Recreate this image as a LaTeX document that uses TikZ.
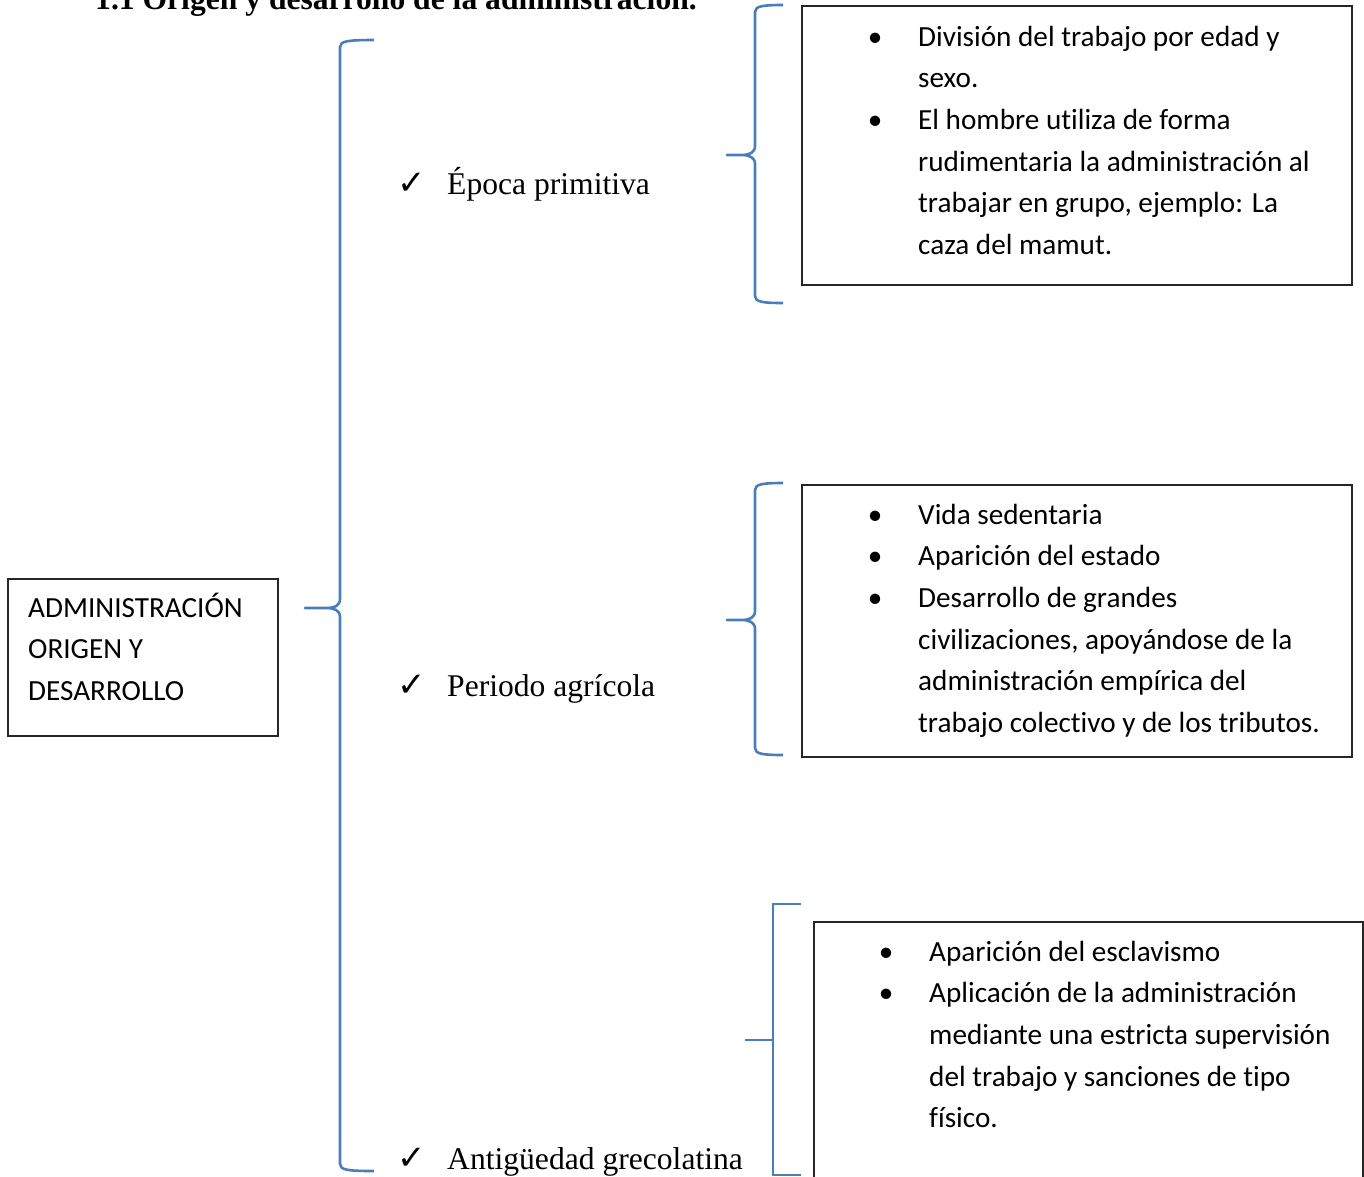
\documentclass[tikz,border=0pt]{standalone}
\usepackage{fontspec}
\setmainfont{Liberation Serif}
\newfontfamily\calfont[Ligatures=NoCommon]{Carlito}
\newfontfamily\symfont{DejaVu Sans}
\definecolor{wordblue}{RGB}{74,126,187}
\newcommand{\bul}{\makebox[43pt][l]{\makebox[0pt]{•}}}
\newcommand{\nob}{\makebox[43pt]{}}
\newcommand\wordbrace[6]{% #1 xv, #2 xend, #3 xtip, #4 ytop, #5 ytip, #6 ybot
  \draw[brace] (#2,#4) .. controls (#1+8,#4) and (#1,#4+1) .. (#1,#4+7)
    -- (#1,#5-9) .. controls (#1,#5-2) and (#1-6,#5) .. (#1-14,#5) -- (#3,#5)
    -- (#1-14,#5) .. controls (#1-6,#5) and (#1,#5+2) .. (#1,#5+9)
    -- (#1,#6-7) .. controls (#1,#6-1) and (#1+8,#6) .. (#2,#6);}
\begin{document}
\begin{tikzpicture}[x=1pt,y=-1pt,
  brace/.style={draw=wordblue,line width=2.6pt,line join=round},
  box/.style={draw=black!85,line width=1.8pt,inner sep=0pt,anchor=north west},
  boxtext/.style={anchor=base west,inner sep=0pt,font=\calfont\fontsize{29.2}{41.7}\selectfont},
  lbl/.style={anchor=base west,inner sep=0pt,font=\fontsize{31.6}{38}\selectfont},
  chk/.style={anchor=base west,inner sep=0pt,font=\symfont\fontsize{34}{40}\selectfont}]
\useasboundingbox (0,0) rectangle (1364,1176);
\fill[white] (0,0) rectangle (1364,1176);

% title
\node[anchor=base west,inner sep=0pt,font=\bfseries\fontsize{31.6}{38}\selectfont] (title) at (95,9) {1.1 Origen y desarrollo de la administración.};

% root box
\node[box,minimum width=270pt,minimum height=157pt] (root) at (7,578) {};
\node[boxtext] (roottext) at (28,617) {\begin{tabular}[t]{@{}l@{}}ADMINISTRACIÓN\\ORIGEN Y\\DESARROLLO\end{tabular}};

% big brace
\coordinate (bigtip) at (305,608);
\wordbrace{340}{374}{305}{40}{608}{1171}

% labels
\node[chk] (c1) at (397,194) {✓};
\node[lbl] (l1) at (447,194) {Época primitiva};
\node[chk] (c2) at (397,696) {✓};
\node[lbl] (l2) at (447,696) {Periodo agrícola};
\node[chk] (c3) at (397,1169) {✓};
\node[lbl] (l3) at (447,1169) {Antigüedad grecolatina};

% brace 1 and box 1
\coordinate (tip1) at (727,155);
\wordbrace{755}{783}{727}{5}{155}{303}
\node[box,minimum width=550pt,minimum height=279pt] (d1) at (801,5) {};
\node[boxtext] (t1) at (875,46) {\begin{tabular}[t]{@{}l@{}}
\bul División del trabajo por edad y\\
\nob sexo.\\
\bul El hombre utiliza de forma\\
\nob rudimentaria la administración al\\
\nob trabajar en grupo, ejemplo: La\\
\nob caza del mamut.\end{tabular}};

% brace 2 and box 2
\coordinate (tip2) at (727,620);
\wordbrace{755}{783}{727}{483}{620}{755}
\node[box,minimum width=550pt,minimum height=272pt] (d2) at (801,484) {};
\node[boxtext] (t2) at (875,524) {\begin{tabular}[t]{@{}l@{}}
\bul Vida sedentaria\\
\bul Aparición del estado\\
\bul Desarrollo de grandes\\
\nob civilizaciones, apoyándose de la\\
\nob administración empírica del\\
\nob trabajo colectivo y de los tributos.\end{tabular}};

% bracket 3 and box 3
\coordinate (b3top) at (801,904);
\coordinate (b3bot) at (801,1175);
\coordinate (tip3) at (745,1040);
\draw[draw=wordblue,line width=2.6pt] (b3top) -- (773,904) -- (773,1175) -- (b3bot);
\draw[draw=wordblue,line width=2.6pt] (tip3) -- (773,1040);
\node[box,minimum width=549pt,minimum height=300pt] (d3) at (813,921) {};
\node[boxtext] (t3) at (886,961) {\begin{tabular}[t]{@{}l@{}}
\bul Aparición del esclavismo\\
\bul Aplicación de la administración\\
\nob mediante una estricta supervisión\\
\nob del trabajo y sanciones de tipo\\
\nob físico.\end{tabular}};
\end{tikzpicture}
\end{document}
